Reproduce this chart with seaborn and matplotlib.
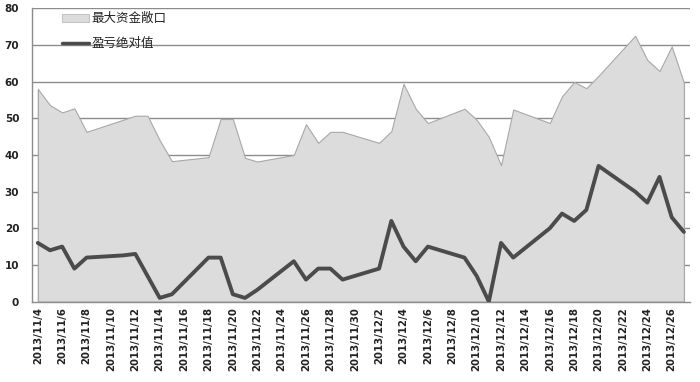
import matplotlib
matplotlib.use("Agg")
import matplotlib.pyplot as plt
import matplotlib.dates as mdates
from matplotlib.patches import Patch
from matplotlib.lines import Line2D
from matplotlib.ticker import FuncFormatter
import seaborn as sns
import pandas as pd
import datetime as dt

# ---- data ----
dates = [
    "2013-11-04", "2013-11-05", "2013-11-06", "2013-11-07", "2013-11-08",
    "2013-11-11", "2013-11-12", "2013-11-13", "2013-11-14", "2013-11-15",
    "2013-11-18", "2013-11-19", "2013-11-20", "2013-11-21", "2013-11-22",
    "2013-11-25", "2013-11-26", "2013-11-27", "2013-11-28", "2013-11-29",
    "2013-12-02", "2013-12-03", "2013-12-04", "2013-12-05", "2013-12-06",
    "2013-12-09", "2013-12-10", "2013-12-11", "2013-12-12", "2013-12-13",
    "2013-12-16", "2013-12-17", "2013-12-18", "2013-12-19", "2013-12-20",
    "2013-12-23", "2013-12-24", "2013-12-25", "2013-12-26", "2013-12-27",
]
max_exposure = [
    58.0, 53.6, 51.6, 52.7, 46.3,
    49.6, 50.7, 50.7, 44.0, 38.3,
    39.4, 49.8, 49.8, 39.2, 38.2,
    40.0, 48.4, 43.3, 46.3, 46.3,
    43.3, 46.5, 59.4, 52.6, 48.7,
    52.6, 49.6, 44.9, 37.2, 52.4,
    48.7, 56.0, 59.9, 58.2, 61.6,
    72.5, 65.9, 62.9, 69.6, 59.7,
]
abs_pnl = [
    16, 14, 15, 9, 12,
    12.6, 13, 7, 1, 2,
    12, 12, 2, 1, 3.2,
    11, 6, 9, 9, 6,
    9, 22, 15, 11, 15,
    12, 7, 0, 16, 12,
    20, 24, 22, 25, 37,
    30, 27, 34, 23, 19,
]
series_names = ["最大资金敞口", "盈亏绝对值"]
y_ticks = [0, 10, 20, 30, 40, 50, 60, 70, 80]

df = pd.DataFrame({
    "date": pd.to_datetime(dates),
    series_names[0]: max_exposure,
    series_names[1]: abs_pnl,
})

sns.set_theme(style="white")
plt.rcParams["font.family"] = ["Noto Sans CJK SC", "DejaVu Sans"]

fig = plt.figure(figsize=(7.0, 3.82), dpi=100)
ax = fig.add_axes([0.0453, 0.2105, 0.9404, 0.7678])

area_color = "#dcdcdc"
area_edge = "#a8a8a8"
line_color = "#4b4b4b"
grid_color = "#8c8c8c"

ax.fill_between(df["date"], df[series_names[0]], 0,
                facecolor=area_color, edgecolor=area_edge, linewidth=0.8, zorder=1)
ax.vlines([df["date"].iloc[0], df["date"].iloc[-1]], 0,
          [max_exposure[0], max_exposure[-1]], color=area_edge, linewidth=0.8, zorder=1)
sns.lineplot(data=df, x="date", y=series_names[1], ax=ax, color=line_color,
             linewidth=2.8, zorder=3, legend=False)

for v in y_ticks[1:]:
    ax.axhline(v, color=grid_color, linewidth=1.0, zorder=0.5)

ax.set_ylim(0, 80)
ax.set_yticks(y_ticks)
start = dt.datetime(2013, 11, 3, 12)
end = dt.datetime(2013, 12, 27, 12)
ax.set_xlim(start, end)
ax.set_xticks(pd.date_range("2013-11-04", "2013-12-26", freq="2D"))
ax.xaxis.set_major_formatter(FuncFormatter(
    lambda x, pos: (lambda d: f"{d.year}/{d.month}/{d.day}")(mdates.num2date(x))))
ax.set_xlabel("")
ax.set_ylabel("")

for lab in ax.get_xticklabels():
    lab.set_rotation(90)
    lab.set_fontsize(7.3)
    lab.set_fontweight("bold")
    lab.set_family(["DejaVu Sans"])
    lab.set_color("#222222")
for lab in ax.get_yticklabels():
    lab.set_fontsize(7.5)
    lab.set_fontweight("bold")
    lab.set_family(["DejaVu Sans"])
    lab.set_color("#222222")

ax.tick_params(axis="both", length=0, pad=4)
ax.tick_params(axis="y", pad=9)
for s in ["top", "right"]:
    ax.spines[s].set_visible(False)
for s in ["left", "bottom"]:
    ax.spines[s].set_color(grid_color)
    ax.spines[s].set_linewidth(1.0)

handles = [Patch(facecolor=area_color, edgecolor="#c4c4c4", linewidth=0.8),
           Line2D([0], [0], color=line_color, linewidth=2.5)]
leg = ax.legend(handles, series_names, loc="upper left", bbox_to_anchor=(0.038, 1.003),
                frameon=False, fontsize=9, handlelength=2.2, handleheight=0.65,
                handletextpad=0.15, labelspacing=0.95, borderaxespad=0)
for t in leg.get_texts():
    t.set_color("#222222")

fig.savefig("out.png", dpi=100)
